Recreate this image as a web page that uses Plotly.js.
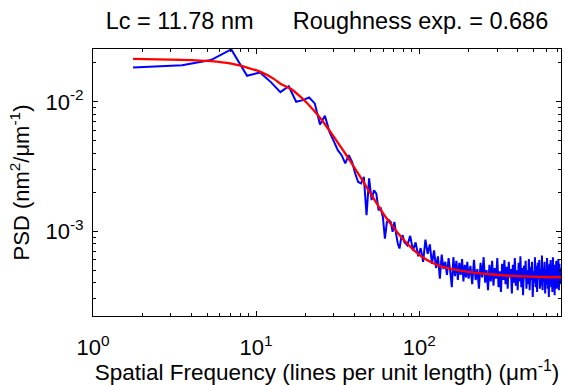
<!DOCTYPE html>
<html>
<head>
<meta charset="utf-8">
<script src="https://cdn.plot.ly/plotly-3.0.1.min.js"></script>
<style>html,body{margin:0;padding:0;background:#fff;}#chart{width:565px;height:385px;}</style>
</head>
<body>
<div id="chart"></div>
<script>
// Measured PSD (blue), low-frequency bins
const freqLow = [1.76, 3.52, 5.28, 7.04, 8.8, 10.56, 12.32, 14.08, 15.84, 17.6, 19.36, 21.12, 22.88, 24.64, 26.4, 28.16, 29.92, 31.68, 33.44, 35.2, 36.96, 38.72, 40.48, 42.24, 44, 45.76, 47.52, 49.28, 51.04, 52.8, 54.56, 56.32, 58.08, 59.84, 61.6, 63.36, 65.12, 66.88, 68.64, 70.4, 72.16, 73.92, 75.68, 77.44, 79.2, 80.96];
const psdLow = [0.01845, 0.0192, 0.0210, 0.0254, 0.0159, 0.01686, 0.0142, 0.01188, 0.0132, 0.0100, 0.0103, 0.0108, 0.00972, 0.00668, 0.0078, 0.00586, 0.00497, 0.00423, 0.00387, 0.00334, 0.00387, 0.00344, 0.00279, 0.0024, 0.00234, 0.00263, 0.00133, 0.00256, 0.00174, 0.00207, 0.00195, 0.00145, 0.0015, 0.00129, 0.000877, 0.00118, 0.00122, 0.00118, 0.00099, 0.00118, 0.00095, 0.00080, 0.000735, 0.00088, 0.00093, 0.000826];
// mid-frequency bins
const freqMid = [84.48, 88, 91.52, 95.04, 98.56, 102.08, 105.6, 109.12, 112.64, 116.16, 119.68, 123.2, 126.72, 130.24, 133.76, 137.28, 140.8, 144.32, 147.84, 151.36, 154.88, 158.4, 161.92, 165.44, 168.96, 172.48, 176, 179.52, 183.04, 186.56, 190.08, 193.6, 197.12, 200.64];
const psdMid = [0.00078, 0.00092, 0.00071, 0.00082, 0.00064, 0.00074, 0.00058, 0.00086, 0.00067, 0.00079, 0.00056, 0.00071, 0.00052, 0.00064, 0.00043, 0.00066, 0.00051, 0.00058, 0.00046, 0.00062, 0.00049, 0.00037, 0.00063, 0.00045, 0.00059, 0.00042, 0.00057, 0.00046, 0.00061, 0.00041, 0.00055, 0.00044, 0.00058, 0.00043];
// high-frequency bins
const freqHigh = [205.92, 211.2, 216.48, 221.76, 227.04, 232.32, 237.6, 242.88, 248.16, 253.44, 258.72, 264, 269.28, 274.56, 279.84, 285.12, 290.4, 295.68, 300.96, 306.24, 311.52, 316.8, 322.08, 327.36, 332.64, 337.92, 343.2, 348.48, 353.76, 359.04, 364.32, 369.6, 374.88, 380.16, 385.44, 390.72, 396, 401.28, 406.56, 411.84, 417.12, 422.4, 427.68, 432.96, 438.24, 443.52, 448.8, 454.08, 459.36, 464.64, 469.92, 475.2, 480.48, 485.76, 491.04, 496.32, 501.6, 506.88, 512.16, 517.44, 522.72, 528, 533.28, 538.56, 543.84, 549.12, 554.4, 559.68, 564.96, 570.24, 575.52, 580.8, 586.08, 591.36, 596.64, 601.92, 607.2, 612.48, 617.76, 623.04, 628.32, 633.6, 638.88, 644.16, 649.44, 654.72, 660, 665.28, 670.56, 675.84, 681.12, 686.4, 691.68, 696.96, 702.24, 707.52, 712.8, 718.08, 723.36, 728.64, 733.92, 739.2];
const psdHigh = [0.00054, 0.00039, 0.00060, 0.00042, 0.00051, 0.00036, 0.00057, 0.00044, 0.00063, 0.00040, 0.00050, 0.00035, 0.00055, 0.00041, 0.00059, 0.00038, 0.00052, 0.00043, 0.00062, 0.00037, 0.00049, 0.00034, 0.00056, 0.00042, 0.00060, 0.00039, 0.00053, 0.00036, 0.00058, 0.00044, 0.00051, 0.00033, 0.00055, 0.00040, 0.00062, 0.00038, 0.00050, 0.00035, 0.00057, 0.00041, 0.00064, 0.00037, 0.00052, 0.00032, 0.00054, 0.00043, 0.00059, 0.00036, 0.00050, 0.00039, 0.00061, 0.00035, 0.00053, 0.00042, 0.00058, 0.00031, 0.00049, 0.00040, 0.00063, 0.00037, 0.00054, 0.00034, 0.00057, 0.00043, 0.00060, 0.00036, 0.00051, 0.00038, 0.00065, 0.00035, 0.00052, 0.00041, 0.00058, 0.00033, 0.00050, 0.00039, 0.00062, 0.00036, 0.00054, 0.00031, 0.00056, 0.00042, 0.00060, 0.00037, 0.00051, 0.00034, 0.00063, 0.00040, 0.00055, 0.00032, 0.00053, 0.00041, 0.00059, 0.00036, 0.00050, 0.00038, 0.00061, 0.00035, 0.00056, 0.00043, 0.00052, 0.00039];
// Fitted PSD (red)
const fitFreq = [1.76, 3.52, 5.28, 7.04, 8.8, 10.56, 12.77, 14.08, 16.2, 18.3, 20.5, 22.6, 24.7, 27.5, 30.5, 34, 37.6, 41.5, 45.5, 51, 57.6, 63, 68, 75, 82, 93, 106, 120, 134.5, 150, 170, 200, 237, 280, 337, 400, 478, 580, 740];
const fitPsd = [0.0215, 0.0211, 0.0206, 0.0197, 0.0184, 0.0171, 0.0151, 0.0138, 0.01265, 0.0112, 0.0098, 0.00855, 0.0075, 0.00625, 0.00519, 0.00425, 0.00351, 0.00289, 0.00241, 0.00190, 0.00149, 0.00126, 0.00111, 0.000946, 0.000832, 0.000711, 0.000624, 0.000571, 0.000538, 0.000518, 0.000502, 0.000485, 0.000472, 0.000463, 0.000455, 0.00045, 0.000446, 0.000443, 0.000441];

const xTickVals = [1, 10, 100];
const xTickText = ['10<sup>0</sup>', '10<sup>1</sup>', '10<sup>2</sup>'];
const yTickVals = [0.001, 0.01];
const yTickText = ['10<sup>-3</sup>', '10<sup>-2</sup>'];
const xMinorVals = [2,3,4,5,6,7,8,9,20,30,40,50,60,70,80,90,200,300,400,500,600,700];
const yMinorVals = [0.0003,0.0004,0.0005,0.0006,0.0007,0.0008,0.0009,0.002,0.003,0.004,0.005,0.006,0.007,0.008,0.009,0.02];

const titleText = 'Lc = 11.78 nm' + '\u00a0'.repeat(6) + 'Roughness exp. = 0.686';

const FONT = 'Liberation Sans, Arial, sans-serif';

const traces = [
  {x: freqLow.concat(freqMid, freqHigh), y: psdLow.concat(psdMid, psdHigh), type: 'scatter', mode: 'lines',
   line: {color: '#0000ff', width: 2}, hoverinfo: 'skip'},
  {x: fitFreq, y: fitPsd, type: 'scatter', mode: 'lines',
   line: {color: '#ff0000', width: 2.3, shape: 'spline', smoothing: 0.6}, hoverinfo: 'skip'}
];

const axisCommon = {
  type: 'log', showgrid: false, zeroline: false, showline: true, linecolor: '#000', linewidth: 1,
  mirror: 'ticks', ticks: 'inside', ticklen: 5, tickcolor: '#000', tickwidth: 1,
  tickfont: {family: FONT, size: 22, color: '#000'}
};

const layout = {
  width: 565, height: 385,
  margin: {l: 93, r: 4, t: 49, b: 69},
  paper_bgcolor: '#fff', plot_bgcolor: '#fff',
  showlegend: false,
  font: {family: FONT, color: '#000'},
  title: {text: titleText, font: {family: FONT, size: 23.5, color: '#000'},
          xref: 'paper', x: 0.5, xanchor: 'center', yref: 'container', y: 0.945, yanchor: 'middle'},
  xaxis: Object.assign({}, axisCommon, {
    range: [0, 2.869], tickmode: 'array', tickvals: xTickVals, ticktext: xTickText,
    ticklabelstandoff: 12,
    minor: {tickmode: 'array', tickvals: xMinorVals, ticks: 'inside', ticklen: 3, tickcolor: '#000', showgrid: false},
    title: {text: 'Spatial Frequency (lines per unit length) (\u03bcm<sup>-1</sup>)', font: {family: FONT, size: 22.5, color: '#000'}, standoff: 1}
  }),
  yaxis: Object.assign({}, axisCommon, {
    range: [-3.655, -1.592], tickmode: 'array', tickvals: yTickVals, ticktext: yTickText,
    ticklabelstandoff: 4,
    minor: {tickmode: 'array', tickvals: yMinorVals, ticks: 'inside', ticklen: 3, tickcolor: '#000', showgrid: false},
    title: {text: 'PSD (nm<sup>2</sup>/\u03bcm<sup>-1</sup>)', font: {family: FONT, size: 22, color: '#000'}, standoff: 9}
  })
};

Plotly.newPlot('chart', traces, layout, {staticPlot: true, displayModeBar: false});
</script>
</body>
</html>
